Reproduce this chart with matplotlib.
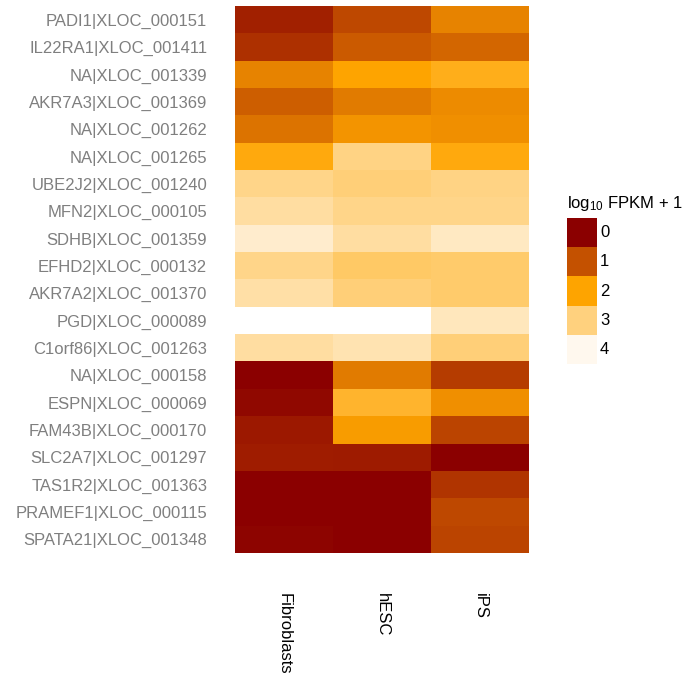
import numpy as np
import matplotlib
matplotlib.use("Agg")
import matplotlib.pyplot as plt
from matplotlib.colors import LinearSegmentedColormap, Normalize

plt.rcParams['font.family'] = ['Liberation Sans', 'DejaVu Sans']
plt.rcParams['mathtext.fontset'] = 'custom'
plt.rcParams['mathtext.rm'] = 'Liberation Sans'
plt.rcParams['mathtext.it'] = 'Liberation Sans'

genes = ["PADI1|XLOC_000151", "IL22RA1|XLOC_001411", "NA|XLOC_001339", "AKR7A3|XLOC_001369",
         "NA|XLOC_001262", "NA|XLOC_001265", "UBE2J2|XLOC_001240", "MFN2|XLOC_000105",
         "SDHB|XLOC_001359", "EFHD2|XLOC_000132", "AKR7A2|XLOC_001370", "PGD|XLOC_000089",
         "C1orf86|XLOC_001263", "NA|XLOC_000158", "ESPN|XLOC_000069", "FAM43B|XLOC_000170",
         "SLC2A7|XLOC_001297", "TAS1R2|XLOC_001363", "PRAMEF1|XLOC_000115", "SPATA21|XLOC_001348"]
samples = ["Fibroblasts", "hESC", "iPS"]

fibroblasts = [0.4, 0.6, 1.6, 1.15, 1.4, 2.1, 3.1, 3.3, 3.7, 3.1, 3.35, np.nan, 3.3, 0.0, 0.1, 0.3, 0.35, 0.0, 0.0, 0.05]
hesc        = [0.9, 1.1, 2.0, 1.5, 1.8, 3.05, 2.95, 3.1, 3.3, 2.8, 2.95, np.nan, 3.45, 1.5, 2.35, 1.9, 0.33, 0.0, 0.0, 0.0]
ips         = [1.6, 1.25, 2.2, 1.7, 1.75, 2.1, 3.05, 3.1, 3.6, 2.85, 2.85, 3.55, 2.95, 0.75, 1.75, 0.85, 0.0, 0.65, 0.9, 0.85]

legend_breaks = [0, 1, 2, 3, 4]

vmin, vmax = 0.0, 4.2
anchors = [(0.0, "#8B0000"), (1.0, "#C55200"), (2.0, "#FFA500"), (3.0, "#FFD27F"), (4.0, "#FFF8EE"), (4.2, "#FFFFFF")]
cmap = LinearSegmentedColormap.from_list("heat", [((v - vmin) / (vmax - vmin), c) for v, c in anchors])
cmap.set_bad("white")
norm = Normalize(vmin=vmin, vmax=vmax)

data = np.array([fibroblasts, hesc, ips]).T

W, H = 687, 677
fig = plt.figure(figsize=(W / 100, H / 100), dpi=100)

ax = fig.add_axes([235 / W, 1 - 553 / H, (529 - 235) / W, (553 - 6) / H])
ax.imshow(np.ma.masked_invalid(data), cmap=cmap, norm=norm, aspect='auto', interpolation='nearest')
ax.set_xticks(range(len(samples)))
ax.set_xticklabels(samples, rotation=270, fontsize=12, color='black', va='top', ha='center')
ax.set_yticks(range(len(genes)))
ax.set_yticklabels(genes, fontsize=12, color='#7F7F7F')
ax.tick_params(axis='both', length=0)
ax.tick_params(axis='x', pad=29)
ax.tick_params(axis='y', pad=20)
for s in ax.spines.values():
    s.set_visible(False)

# legend
lax = fig.add_axes([567 / W, 1 - 364 / H, 30 / W, 146 / H])
lax.imshow(np.array(legend_breaks, dtype=float).reshape(-1, 1), cmap=cmap, norm=norm,
           aspect='auto', interpolation='nearest')
lax.set_xticks([])
lax.set_yticks([])
for s in lax.spines.values():
    s.set_visible(False)
for i, b in enumerate(legend_breaks):
    lax.text(0.6, i, str(b), transform=lax.transData, fontsize=12, va='center', ha='left')
fig.text(567 / W, 1 - 208 / H, r'log$_{10}$ FPKM + 1', fontsize=12, va='baseline', ha='left')

fig.savefig("out.png", dpi=100)
